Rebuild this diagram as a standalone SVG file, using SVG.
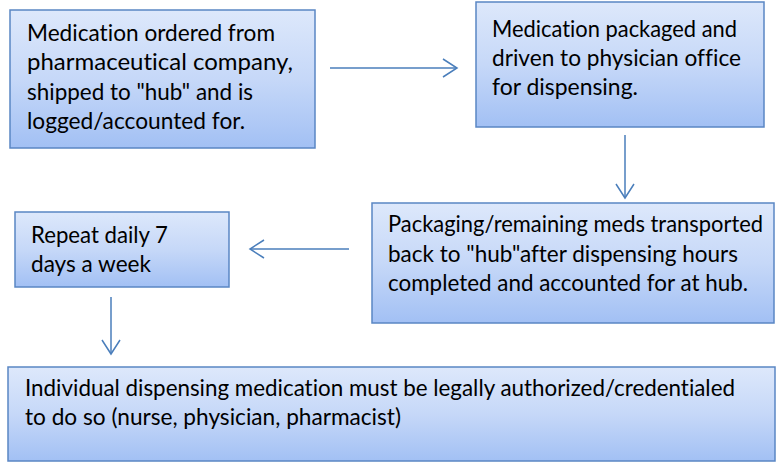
<svg xmlns="http://www.w3.org/2000/svg" width="777" height="462" viewBox="0 0 777 462">
<defs>
<linearGradient id="g" x1="0" y1="0" x2="0" y2="1">
<stop offset="0" stop-color="#dde8fb"/>
<stop offset="0.5" stop-color="#c6d8f8"/>
<stop offset="1" stop-color="#a2c0f4"/>
</linearGradient>
<marker id="ah" viewBox="0 0 14 18" refX="14" refY="9" markerWidth="14" markerHeight="18" orient="auto" markerUnits="userSpaceOnUse" overflow="visible">
<path d="M0,0 L14,9 L0,18" fill="none" stroke="#4a7ebb" stroke-width="1.5"/>
</marker>
</defs>
<style>
.box{fill:url(#g);stroke:#5a86c4;stroke-width:1.5}
.t{font-family:Lato,"Open Sans","Liberation Sans",sans-serif;font-size:23px;fill:#000;font-variant-ligatures:none}
.c{stroke:#4a7ebb;stroke-width:1.5;fill:none;marker-end:url(#ah)}
</style>
<rect width="777" height="462" fill="#fff"/>
<g id="connectors">
<line class="c" x1="330" y1="68" x2="457" y2="68"/>
<line class="c" x1="625" y1="135" x2="625" y2="198"/>
<line class="c" x1="349" y1="249" x2="250" y2="249"/>
<line class="c" x1="111" y1="297" x2="111" y2="354"/>
</g>
<g id="n1">
<rect class="box" x="10" y="10" width="305" height="138"/>
<text class="t" x="27" y="41" textLength="248" lengthAdjust="spacingAndGlyphs">Medication ordered from</text>
<text class="t" x="27" y="70" textLength="266" lengthAdjust="spacingAndGlyphs">pharmaceutical company,</text>
<text class="t" x="27" y="100" textLength="226" lengthAdjust="spacingAndGlyphs">shipped to "hub" and is</text>
<text class="t" x="27" y="129" textLength="218" lengthAdjust="spacingAndGlyphs">logged/accounted for.</text>
</g>
<g id="n2">
<rect class="box" x="476" y="2" width="288" height="125"/>
<text class="t" x="492" y="37" textLength="245" lengthAdjust="spacingAndGlyphs">Medication packaged and</text>
<text class="t" x="492" y="66" textLength="249" lengthAdjust="spacingAndGlyphs">driven to physician office</text>
<text class="t" x="492" y="95" textLength="146" lengthAdjust="spacingAndGlyphs">for dispensing.</text>
</g>
<g id="n3">
<rect class="box" x="372" y="203" width="402" height="120"/>
<text class="t" x="388" y="232" textLength="375" lengthAdjust="spacingAndGlyphs">Packaging/remaining meds transported</text>
<text class="t" x="388" y="262" textLength="350" lengthAdjust="spacingAndGlyphs">back to "hub"after dispensing hours</text>
<text class="t" x="388" y="291" textLength="360" lengthAdjust="spacingAndGlyphs">completed and accounted for at hub.</text>
</g>
<g id="n4">
<rect class="box" x="15" y="212" width="214" height="75"/>
<text class="t" x="31" y="243" textLength="137" lengthAdjust="spacingAndGlyphs">Repeat daily 7</text>
<text class="t" x="31" y="272" textLength="120" lengthAdjust="spacingAndGlyphs">days a week</text>
</g>
<g id="n5">
<rect class="box" x="8" y="367" width="767" height="94"/>
<text class="t" x="25" y="396" textLength="710" lengthAdjust="spacingAndGlyphs">Individual dispensing medication must be legally authorized/credentialed</text>
<text class="t" x="25" y="425" textLength="376" lengthAdjust="spacingAndGlyphs">to do so (nurse, physician, pharmacist)</text>
</g>
</svg>
